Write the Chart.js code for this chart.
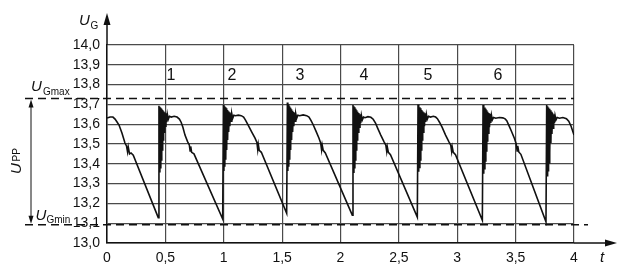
<!DOCTYPE html>
<html>
<head>
<meta charset="utf-8">
<script src="https://cdn.jsdelivr.net/npm/chart.js@4/dist/chart.umd.min.js"></script>
<style>
  html, body { margin: 0; padding: 0; background: #fff; }
  #c { display: block; }
</style>
</head>
<body>
<canvas id="c" width="623" height="273"></canvas>
<script>
// ---- data ----
const xTickValues = [0, 0.5, 1, 1.5, 2, 2.5, 3, 3.5, 4];
const xTickLabels = ['0', '0,5', '1', '1,5', '2', '2,5', '3', '3,5', '4'];
const yTickValues = [13.0, 13.1, 13.2, 13.3, 13.4, 13.5, 13.6, 13.7, 13.8, 13.9, 14.0];
const yTickLabels = ['13,0', '13,1', '13,2', '13,3', '13,4', '13,5', '13,6', '13,7', '13,8', '13,9', '14,0'];

const uGmax = 13.73;
const uGmin = 13.092;

const cycleLabels = ['1', '2', '3', '4', '5', '6'];
const cycleLabelT = [0.548, 1.071, 1.653, 2.201, 2.749, 3.349];
const cycleLabelV = 13.843;

// time t of the voltage trace
const timeS = [
  // start
  0, 0.026, 0.051, 0.069, 0.086, 0.103, 0.128, 0.154, 0.167, 0.176, 0.182, 0.193, 0.206, 0.225, 0.439,
  // cycle 1
  0.445, 0.449, 0.453, 0.457, 0.461, 0.465, 0.469, 0.473, 0.477, 0.481, 0.485, 0.490, 0.495, 0.500, 0.505, 0.511, 0.517, 0.525, 0.535,
  0.550, 0.575, 0.600, 0.620, 0.635, 0.650, 0.668, 0.690, 0.705, 0.712, 0.717, 0.725, 0.745, 0.991,
  // cycle 2
  0.997, 1.001, 1.005, 1.009, 1.013, 1.017, 1.021, 1.025, 1.029, 1.033, 1.037, 1.042, 1.047, 1.052, 1.057, 1.063, 1.069, 1.077, 1.087,
  1.100, 1.125, 1.150, 1.170, 1.185, 1.208, 1.240, 1.268, 1.284, 1.291, 1.296, 1.304, 1.322, 1.539,
  // cycle 3
  1.545, 1.549, 1.553, 1.557, 1.561, 1.565, 1.569, 1.573, 1.577, 1.581, 1.585, 1.590, 1.595, 1.600, 1.605, 1.611, 1.617, 1.625, 1.635,
  1.650, 1.680, 1.710, 1.730, 1.748, 1.767, 1.790, 1.815, 1.830, 1.838, 1.843, 1.852, 1.870, 2.101,
  // cycle 4
  2.107, 2.111, 2.115, 2.119, 2.123, 2.127, 2.131, 2.135, 2.139, 2.143, 2.147, 2.152, 2.157, 2.162, 2.167, 2.173, 2.179, 2.187, 2.197,
  2.210, 2.235, 2.260, 2.280, 2.300, 2.320, 2.345, 2.372, 2.388, 2.396, 2.401, 2.410, 2.428, 2.658,
  // cycle 5
  2.664, 2.668, 2.672, 2.676, 2.680, 2.684, 2.688, 2.692, 2.696, 2.700, 2.704, 2.709, 2.714, 2.719, 2.724, 2.730, 2.736, 2.744, 2.754,
  2.770, 2.795, 2.815, 2.830, 2.848, 2.870, 2.900, 2.930, 2.944, 2.952, 2.957, 2.966, 2.985, 3.215,
  // cycle 6
  3.221, 3.225, 3.229, 3.233, 3.237, 3.241, 3.245, 3.249, 3.253, 3.257, 3.261, 3.266, 3.271, 3.276, 3.281, 3.287, 3.293, 3.301, 3.311,
  3.330, 3.360, 3.390, 3.410, 3.424, 3.445, 3.466, 3.490, 3.505, 3.513, 3.518, 3.527, 3.545, 3.760,
  // cycle 7
  3.766, 3.770, 3.774, 3.778, 3.782, 3.786, 3.790, 3.794, 3.798, 3.802, 3.806, 3.811, 3.816, 3.821, 3.826, 3.832, 3.838, 3.846, 3.856,
  3.875, 3.905, 3.935, 3.955, 3.975, 4.000
];

// voltage U_G of the trace
const voltageV = [
  // start
  13.631, 13.636, 13.636, 13.626, 13.611, 13.596, 13.556, 13.505, 13.490, 13.460, 13.485, 13.450, 13.455, 13.444, 13.128,
  // cycle 1
  13.693, 13.360, 13.688, 13.380, 13.683, 13.420, 13.678, 13.470, 13.672, 13.520, 13.665, 13.560, 13.660, 13.590, 13.655, 13.610, 13.650, 13.625, 13.640,
  13.636, 13.640, 13.636, 13.626, 13.610, 13.585, 13.545, 13.512, 13.495, 13.465, 13.488, 13.458, 13.450, 13.121,
  // cycle 2
  13.697, 13.364, 13.690, 13.385, 13.685, 13.420, 13.680, 13.470, 13.672, 13.520, 13.665, 13.560, 13.660, 13.590, 13.655, 13.615, 13.652, 13.630, 13.645,
  13.643, 13.646, 13.643, 13.636, 13.622, 13.596, 13.560, 13.530, 13.508, 13.472, 13.498, 13.468, 13.458, 13.150,
  // cycle 3
  13.710, 13.364, 13.700, 13.385, 13.690, 13.420, 13.683, 13.470, 13.675, 13.520, 13.668, 13.560, 13.662, 13.590, 13.657, 13.615, 13.652, 13.630, 13.645,
  13.643, 13.647, 13.643, 13.636, 13.618, 13.596, 13.565, 13.530, 13.505, 13.470, 13.495, 13.468, 13.455, 13.141,
  // cycle 4
  13.697, 13.357, 13.690, 13.380, 13.685, 13.420, 13.678, 13.470, 13.670, 13.520, 13.663, 13.560, 13.657, 13.585, 13.650, 13.605, 13.645, 13.622, 13.636,
  13.633, 13.638, 13.635, 13.625, 13.605, 13.578, 13.545, 13.512, 13.495, 13.462, 13.485, 13.458, 13.446, 13.131,
  // cycle 5
  13.700, 13.360, 13.692, 13.382, 13.686, 13.420, 13.680, 13.470, 13.672, 13.520, 13.665, 13.560, 13.660, 13.590, 13.655, 13.612, 13.650, 13.626, 13.640,
  13.636, 13.640, 13.636, 13.628, 13.610, 13.585, 13.545, 13.510, 13.495, 13.462, 13.485, 13.458, 13.446, 13.115,
  // cycle 6
  13.697, 13.350, 13.690, 13.375, 13.684, 13.415, 13.678, 13.465, 13.670, 13.515, 13.663, 13.555, 13.657, 13.585, 13.652, 13.607, 13.646, 13.622, 13.634,
  13.630, 13.634, 13.632, 13.627, 13.618, 13.590, 13.562, 13.528, 13.500, 13.465, 13.490, 13.460, 13.448, 13.107,
  // cycle 7
  13.697, 13.340, 13.690, 13.365, 13.684, 13.405, 13.678, 13.455, 13.670, 13.505, 13.663, 13.550, 13.657, 13.580, 13.650, 13.605, 13.644, 13.622, 13.634,
  13.630, 13.634, 13.628, 13.615, 13.590, 13.545
];

// ---- chart ----
const FONT = '"Liberation Sans", Arial, Helvetica, sans-serif';
const INK = '#111';
const GRID = '#4a4a4a';

const tracePoints = timeS.map((t, i) => ({ x: t, y: voltageV[i] }));

function txt(ctx, s, x, y, size, italic, align) {
  ctx.font = (italic ? 'italic ' : '') + size + 'px ' + FONT;
  ctx.textAlign = align || 'left';
  ctx.textBaseline = 'alphabetic';
  ctx.fillText(s, x, y);
}
function seg(ctx, x1, y1, x2, y2) {
  ctx.beginPath(); ctx.moveTo(x1, y1); ctx.lineTo(x2, y2); ctx.stroke();
}
function tri(ctx, pts) {
  ctx.beginPath(); ctx.moveTo(pts[0], pts[1]); ctx.lineTo(pts[2], pts[3]); ctx.lineTo(pts[4], pts[5]); ctx.closePath(); ctx.fill();
}

const decor = {
  id: 'decor',
  afterDraw(chart) {
    const { ctx, chartArea: a, scales } = chart;
    const ys = scales.y, xs = scales.x;
    ctx.save();
    ctx.strokeStyle = INK; ctx.fillStyle = INK;

    // axis arrows
    ctx.lineWidth = 1.5;
    seg(ctx, a.left, a.top, a.left, 24);
    tri(ctx, [a.left, 13, a.left - 3.5, 25, a.left + 3.5, 25]);
    seg(ctx, a.right, a.bottom, 606, a.bottom);
    tri(ctx, [617, a.bottom, 605, a.bottom - 3.5, 605, a.bottom + 3.5]);

    // U_Gmax / U_Gmin dashed lines
    const yMax = ys.getPixelForValue(uGmax);
    const yMin = ys.getPixelForValue(uGmin);
    ctx.lineWidth = 1.6;
    ctx.setLineDash([8, 5]);
    seg(ctx, 25, yMax, a.right, yMax);
    seg(ctx, 25, yMin, 588, yMin);
    ctx.setLineDash([]);

    // U_PP double arrow
    ctx.lineWidth = 1;
    seg(ctx, 31, yMax + 6, 31, yMin - 6);
    tri(ctx, [31, yMax + 1, 28.5, yMax + 9, 33.5, yMax + 9]);
    tri(ctx, [31, yMin - 1, 28.5, yMin - 9, 33.5, yMin - 9]);

    // texts
    ctx.fillStyle = INK;
    txt(ctx, 'U', 79, 25, 15, true);
    txt(ctx, 'G', 90.5, 28.5, 10, false);
    txt(ctx, 'U', 31, 90.5, 15, true);
    txt(ctx, 'Gmax', 43, 95, 10, false);
    txt(ctx, 'U', 35.5, 220, 15, true);
    txt(ctx, 'Gmin', 46.5, 222.5, 10, false);
    txt(ctx, 't', 600, 262, 15, true);

    // U_PP rotated
    ctx.save();
    ctx.translate(20.5, 174);
    ctx.rotate(-Math.PI / 2);
    txt(ctx, 'U', 0, 0, 15, true);
    txt(ctx, 'PP', 12.5, -1, 10, false);
    ctx.restore();

    // cycle numbers
    ctx.font = '16px ' + FONT;
    ctx.textAlign = 'center';
    ctx.textBaseline = 'middle';
    cycleLabels.forEach((lab, i) => {
      ctx.fillText(lab, xs.getPixelForValue(cycleLabelT[i]), ys.getPixelForValue(cycleLabelV));
    });
    ctx.restore();
  }
};

new Chart(document.getElementById('c'), {
  type: 'line',
  data: {
    datasets: [{
      data: tracePoints,
      borderColor: INK,
      borderWidth: 1.6,
      pointRadius: 0,
      tension: 0,
      fill: false
    }]
  },
  options: {
    responsive: false,
    animation: false,
    parsing: true,
    layout: { padding: { left: 0, top: 45, right: 49, bottom: 0 } },
    plugins: { legend: { display: false }, tooltip: { enabled: false } },
    scales: {
      x: {
        type: 'linear',
        min: 0, max: 4,
        afterFit(s) { s.height = 30; },
        afterBuildTicks(s) { s.ticks = xTickValues.map(v => ({ value: v })); },
        ticks: {
          color: INK,
          font: { family: FONT, size: 14 },
          padding: 7,
          maxRotation: 0,
          autoSkip: false,
          callback: (v, i) => xTickLabels[i]
        },
        grid: { color: GRID, lineWidth: 1.2, drawTicks: false },
        border: { color: INK, width: 1.5 }
      },
      y: {
        type: 'linear',
        min: 13.0, max: 14.0,
        afterFit(s) { s.width = 107; },
        afterBuildTicks(s) { s.ticks = yTickValues.map(v => ({ value: v })); },
        ticks: {
          color: INK,
          font: { family: FONT, size: 14 },
          padding: 7,
          autoSkip: false,
          callback: (v, i) => yTickLabels[i]
        },
        grid: { color: GRID, lineWidth: 1.2, drawTicks: false },
        border: { color: INK, width: 1.5 }
      }
    }
  },
  plugins: [decor]
});
</script>
</body>
</html>
